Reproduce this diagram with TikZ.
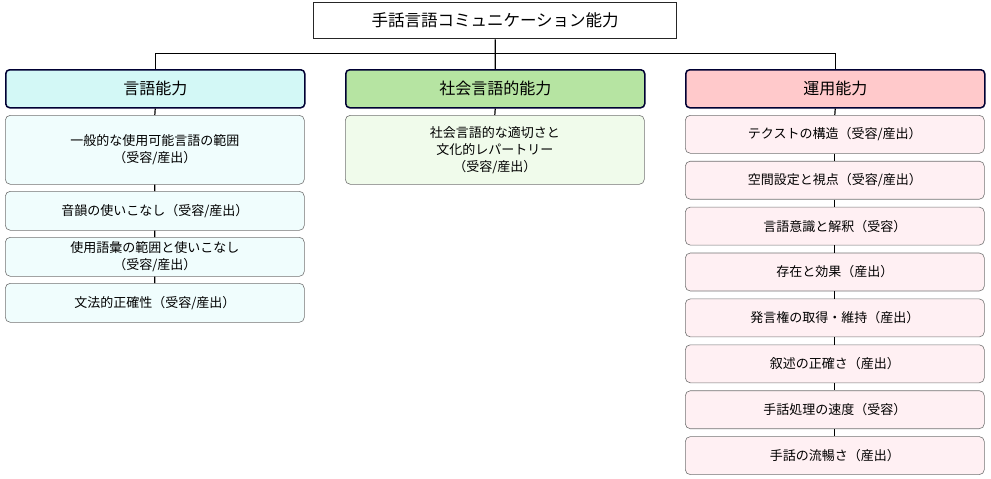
\documentclass[tikz,border=0pt]{standalone}
\usepackage{fontspec}
\usetikzlibrary{calc}
\setmainfont{Noto Sans CJK JP}
\begin{document}
\begin{tikzpicture}[x=1pt,y=-1pt,
  root/.style={draw=black!85,line width=1.3pt,fill=white,minimum width=363pt,minimum height=36pt,font=\fontsize{16.5}{19}\selectfont,anchor=north west},
  head/.style={draw=black!80!blue,line width=1.5pt,rounded corners=4pt,minimum width=299pt,minimum height=38pt,font=\fontsize{16}{19}\selectfont,anchor=north west},
  item/.style={draw=black!55,line width=0.6pt,rounded corners=5pt,minimum width=299pt,align=center,font=\fontsize{13}{17}\selectfont,anchor=north west},
  ln/.style={line width=1.2pt,black}]
\useasboundingbox (0,0) rectangle (991,479);
\definecolor{hA}{HTML}{D3F8F6}\definecolor{cA}{HTML}{F0FDFD}
\definecolor{hB}{HTML}{B6E4A2}\definecolor{cB}{HTML}{F0FBEB}
\definecolor{hC}{HTML}{FFC9CB}\definecolor{cC}{HTML}{FFF0F3}
\node[root] (r) at (313,2) {手話言語コミュニケーション能力};
\node[head,fill=hA] (a) at (5,69) {言語能力};
\node[head,fill=hB] (b) at (345,69) {社会言語的能力};
\node[head,fill=hC] (c) at (685,69) {運用能力};
\node[item,fill=cA,minimum height=69pt] (a1) at (5,115) {一般的な使用可能言語の範囲\\（受容/産出）};
\node[item,fill=cA,minimum height=39pt] (a2) at (5,191) {音韻の使いこなし（受容/産出）};
\node[item,fill=cA,minimum height=39pt] (a3) at (5,237) {使用語彙の範囲と使いこなし\\（受容/産出）};
\node[item,fill=cA,minimum height=39pt] (a4) at (5,283) {文法的正確性（受容/産出）};
\node[item,fill=cB,minimum height=69pt] (b1) at (345,115) {社会言語的な適切さと\\文化的レパートリー\\（受容/産出）};
\foreach \t [count=\i] in {テクストの構造（受容/産出）,空間設定と視点（受容/産出）,言語意識と解釈（受容）,存在と効果（産出）,発言権の取得・維持（産出）,叙述の正確さ（産出）,手話処理の速度（受容）,手話の流暢さ（産出）}
  \node[item,fill=cC,minimum height=38pt] (c\i) at (685,{115+(\i-1)*45.9}) {\t};
\coordinate (j) at ($(r.south)+(0,14)$);
\draw[ln] (r.south) -- (b.north);
\draw[ln] (a.north) |- (j) -| (c.north);
\draw[ln] (a.south) -- (a1.north) (a1.south) -- (a2.north) (a2.south) -- (a3.north) (a3.south) -- (a4.north);
\draw[ln] (b.south) -- (b1.north);
\draw[ln] (c.south) -- (c1.north);
\foreach \i [evaluate=\i as \n using int(\i+1)] in {1,...,7} \draw[ln] (c\i.south) -- (c\n.north);
\end{tikzpicture}
\end{document}
